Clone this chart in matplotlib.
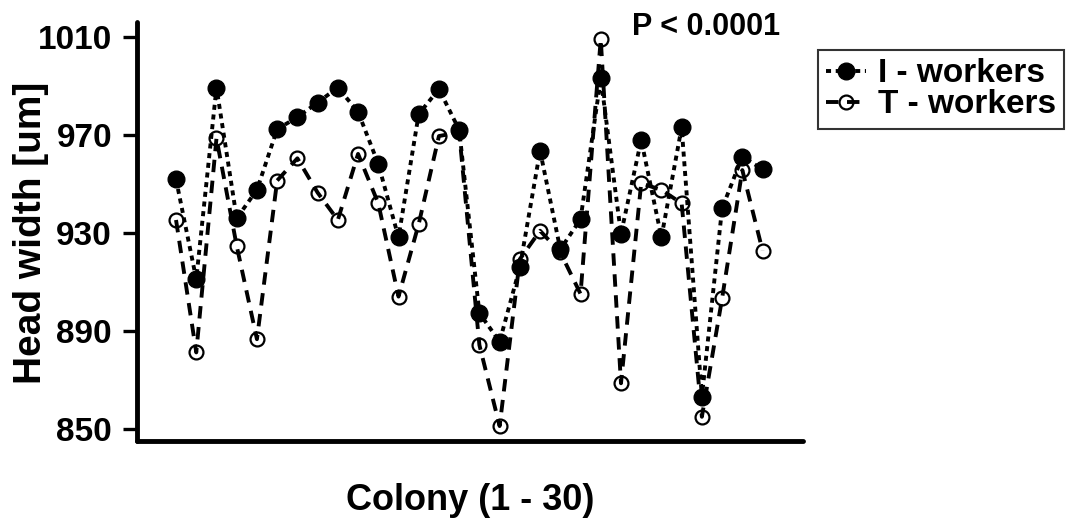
"""head width of I- and T-workers per colony"""

import matplotlib
matplotlib.use("Agg")
import matplotlib.pyplot as plt

plt.rcParams["font.family"] = ["Liberation Sans", "DejaVu Sans"]
plt.rcParams["font.weight"] = "bold"

colony = list(range(1, 31))

# head width [um]
i_workers = [951.8, 911.0, 989.3, 935.9, 947.5, 972.3, 977.2, 983.2, 989.3, 979.4,
             958.1, 928.1, 978.5, 988.7, 972.0, 897.1, 885.5, 915.9, 963.5, 923.2,
             935.5, 993.1, 929.5, 967.9, 928.1, 973.1, 863.0, 940.0, 961.1, 955.9]
t_workers = [935.2, 881.1, 968.6, 924.6, 886.5, 951.3, 960.4, 946.4, 935.2, 962.2,
             942.0, 903.9, 933.6, 969.5, 971.0, 884.1, 851.0, 919.2, 930.8, 922.0,
             905.0, 1009.1, 868.5, 950.2, 947.5, 942.0, 854.8, 903.2, 955.6, 922.7]

y_ticks = [850, 890, 930, 970, 1010]


def main():
    fig = plt.figure(figsize=(10.73, 5.22), dpi=100)
    ax = fig.add_axes([137 / 1073, 1 - 441 / 522, 666 / 1073, 419 / 522])

    # T-workers: open circles, dashed line
    ax.plot(colony, t_workers, color="k", lw=2.8, dashes=(3.2, 2.2),
            marker="o", markersize=10, markerfacecolor="none",
            markeredgecolor="k", markeredgewidth=1.6, label="T - workers", zorder=2)
    # I-workers: filled circles, dotted line
    ax.plot(colony, i_workers, color="k", lw=2.8, dashes=(1.3, 1.2),
            marker="o", markersize=12, markerfacecolor="k",
            markeredgecolor="k", label="I - workers", zorder=3)

    ax.set_xlim(-0.93, 32.0)
    ax.set_ylim(844.9, 1016.1)
    ax.set_yticks(y_ticks)
    ax.set_xticks([])
    ax.tick_params(axis="y", length=10, width=2.4, pad=8, labelsize=24)
    for lab in ax.get_yticklabels():
        lab.set_fontweight("bold")

    for side in ["top", "right"]:
        ax.spines[side].set_visible(False)
    for side in ["left", "bottom"]:
        ax.spines[side].set_linewidth(3.5)
        ax.spines[side].set_capstyle("round")

    # y label sits partly under the tick label column, as in the original
    fig.text(31 / 1073, 1 - 233 / 522, "Head width [um]", fontsize=28,
             fontweight="bold", rotation=90, ha="center", va="center")
    ax.set_xlabel("Colony (1 - 30)", fontsize=26, fontweight="bold", labelpad=30)

    fig.text(632 / 1073, 1 - 35 / 522, "P < 0.0001", fontsize=22,
             fontweight="bold", va="baseline", ha="left")

    handles, labels = ax.get_legend_handles_labels()
    leg = ax.legend(handles[::-1], labels[::-1], loc="upper left",
                    bbox_to_anchor=(818 / 1073, 1 - 50 / 522),
                    bbox_transform=fig.transFigure, fontsize=24,
                    frameon=True, fancybox=False, edgecolor="k",
                    handlelength=1.2, handletextpad=0.35, borderpad=0.25,
                    labelspacing=0.0, borderaxespad=0)
    leg.get_frame().set_linewidth(1.5)
    for t in leg.get_texts():
        t.set_fontweight("bold")

    fig.savefig("out.png", dpi=100)
    plt.close(fig)


if __name__ == "__main__":
    main()
